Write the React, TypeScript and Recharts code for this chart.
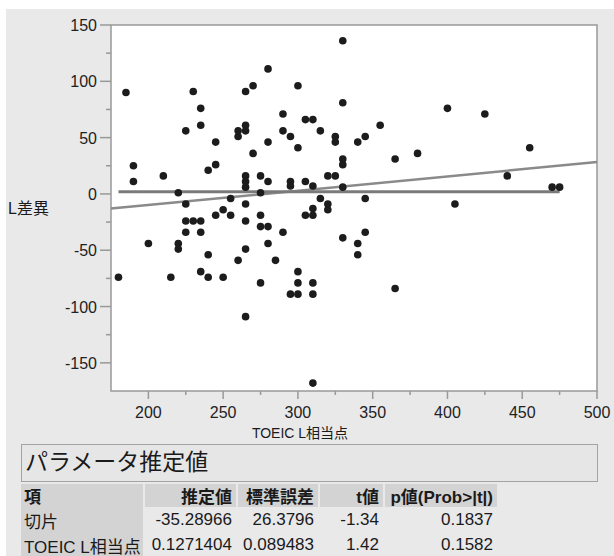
import React from 'react';
import { ScatterChart, Scatter, XAxis, YAxis, ReferenceArea, ReferenceLine } from 'recharts';

// TOEIC L相当点 (x) と L差異 (y)
const toeicL = [
  185, 190, 190, 210, 220, 225, 225, 225, 225, 230, 230, 235, 235, 235, 235, 235,
  240, 240, 240, 245, 245, 245, 250, 250, 255, 255, 260, 260, 260,
  265, 265, 265, 265, 265, 265, 265, 265, 265, 265, 270, 270,
  275, 275, 275, 275, 275, 280, 280, 280, 280, 280, 285, 290, 290, 290,
  295, 295, 295, 295, 300, 300, 300, 300, 300, 305, 305, 305,
  310, 310, 310, 310, 310, 310, 310, 315, 315, 320, 320, 320, 325, 325, 325,
  330, 330, 330, 330, 330, 330, 340, 340, 340, 345, 345, 345, 355, 365, 365,
  380, 400, 405, 425, 440, 455, 470, 475, 180, 200, 215, 220, 220,
];
const lDiff = [
  90, 25, 11, 16, 1, 56, -9, -24, -34, 91, -24, 76, 61, -24, -34, -69,
  21, -54, -74, 46, 26, -19, -14, -74, -4, -19, 56, 51, -59,
  91, 61, 56, 16, 11, 6, -9, -24, -49, -109, 96, 36,
  16, 1, -19, -29, -79, 111, 46, 11, -29, -44, -59, 71, 56, -34,
  51, 11, 7, -89, 96, 41, -69, -79, -89, 66, 11, -19,
  66, 7, -13, -19, -79, -89, -168, 56, -4, 16, -9, -14, 51, 46, 16,
  136, 81, 31, 26, 6, -39, 46, -44, -54, 51, -4, -34, 61, 31, -84,
  36, 76, -9, 71, 16, 41, 6, 6, -74, -44, -74, -44, -49,
];

const xTicks = [200, 225, 250, 275, 300, 325, 350, 375, 400, 425, 450, 475, 500];
const yTicks = [-150, -125, -100, -75, -50, -25, 0, 25, 50, 75, 100, 125, 150];

// パラメータ推定値
const paramHeaders = ['項', '推定値', '標準誤差', 't値', 'p値(Prob>|t|)'];
const paramTerms = ['切片', 'TOEIC L相当点'];
const estimates = ['-35.28966', '0.1271404'];
const stdErrors = ['26.3796', '0.089483'];
const tValues = ['-1.34', '1.42'];
const pValues = ['0.1837', '0.1582'];
const intercept = -35.28966;
const slope = 0.1271404;
const meanDiff = 2;

const points = toeicL.map((x, i) => ({ x, y: lDiff[i] }));
const xMin = 175;
const xMax = 500;
const fitSegment = [
  { x: xMin, y: intercept + slope * xMin },
  { x: xMax, y: intercept + slope * xMax },
];
const meanSegment = [
  { x: Math.min(...toeicL), y: meanDiff },
  { x: Math.max(...toeicL), y: meanDiff },
];

const font = "'Liberation Sans', Arial, 'Noto Sans CJK JP', sans-serif";
const axisGray = '#999';

const YTick = (props: any) => {
  const { x, y, payload } = props;
  const major = payload.value % 50 === 0;
  return (
    <g>
      <line x1={x - (major ? 11 : 5)} x2={x} y1={y} y2={y} stroke={axisGray} strokeWidth={1.5} />
      {major && (
        <text x={x - 14} y={y + 6} textAnchor="end" fontSize={16} fill="#222" fontFamily={font}>
          {payload.value}
        </text>
      )}
    </g>
  );
};

const XTick = (props: any) => {
  const { x, y, payload } = props;
  const major = payload.value % 50 === 0;
  return (
    <g>
      <line x1={x} x2={x} y1={y} y2={y + (major ? 8 : 4)} stroke={axisGray} strokeWidth={1.5} />
      {major && (
        <text x={x} y={y + 27} textAnchor="middle" fontSize={16} fill="#222" fontFamily={font}>
          {payload.value}
        </text>
      )}
    </g>
  );
};

const Dot = (props: any) => <circle cx={props.cx} cy={props.cy} r={3.8} fill="#1c1c1c" />;

// 表の列: 左端, 幅
const cols = [
  [21, 122],
  [145, 91],
  [238, 80],
  [320, 63],
  [385, 112],
];

export default function App() {
  const cellText = (i: number, text: string, bold: boolean) => (
    <div
      key={i}
      style={{
        position: 'absolute',
        left: cols[i][0],
        width: cols[i][1],
        top: 0,
        height: '100%',
        display: 'flex',
        alignItems: 'center',
        justifyContent: i === 0 ? 'flex-start' : 'flex-end',
        padding: '0 4px 0 3px',
        boxSizing: 'border-box',
        fontWeight: bold ? 700 : 400,
        whiteSpace: 'nowrap',
      }}
    >
      {text}
    </div>
  );

  const rows = paramTerms.map((t, r) => [t, estimates[r], stdErrors[r], tValues[r], pValues[r]]);

  return (
    <div style={{ position: 'absolute', left: 0, top: 0, width: 614, height: 556, overflow: 'hidden', background: '#fff', fontFamily: font, color: '#1a1a1a' }}>
      <div style={{ position: 'absolute', left: 6, top: 9, width: 608, height: 547, background: '#e9e9ea' }} />

      <div style={{ position: 'absolute', left: 0, top: 0 }}>
        <ScatterChart width={614} height={440} margin={{ top: 25, right: 17, bottom: 0, left: 0 }}>
          <XAxis
            type="number"
            dataKey="x"
            domain={[xMin, xMax]}
            ticks={xTicks}
            allowDataOverflow
            axisLine={false}
            tickLine={false}
            tickSize={0}
            tickMargin={0}
            height={49}
            interval={0}
            tick={<XTick />}
          />
          <YAxis
            type="number"
            dataKey="y"
            domain={[-175, 150]}
            ticks={yTicks}
            allowDataOverflow
            axisLine={false}
            tickLine={false}
            tickSize={0}
            tickMargin={0}
            width={111}
            interval={0}
            tick={<YTick />}
          />
          <ReferenceArea x1={xMin} x2={xMax} y1={-175} y2={150} fill="#fff" fillOpacity={1} stroke={axisGray} strokeWidth={1.5} />
          <ReferenceLine segment={fitSegment} stroke="#8a8a8a" strokeWidth={2.5} />
          <ReferenceLine segment={meanSegment} stroke="#7a7a7a" strokeWidth={3} />
          <Scatter data={points} shape={<Dot />} isAnimationActive={false} />
        </ScatterChart>
      </div>

      <div style={{ position: 'absolute', left: 8, top: 199, fontSize: 16, lineHeight: '20px' }}>L差異</div>
      <div style={{ position: 'absolute', left: 200, width: 200, top: 424, textAlign: 'center', fontSize: 14, lineHeight: '18px' }}>
        TOEIC L相当点
      </div>

      <div
        style={{
          position: 'absolute', left: 21, top: 444, width: 577, height: 38, boxSizing: 'border-box',
          border: '1.5px solid #a3a3a3', background: '#e6e6e6', fontSize: 23, lineHeight: '35px', paddingLeft: 3,
        }}
      >
        パラメータ推定値
      </div>

      <div style={{ position: 'absolute', left: 0, top: 484, width: 614, height: 23, fontSize: 17 }}>
        {cols.map((c, i) => (
          <div key={'bg' + i} style={{ position: 'absolute', left: c[0], width: c[1], top: 0, height: 23, background: '#d3d3d3' }} />
        ))}
        {paramHeaders.map((h, i) => cellText(i, h, true))}
      </div>

      <div style={{ position: 'absolute', left: 21, width: 122, top: 507, height: 49, background: '#d3d3d3' }} />
      {rows.map((row, r) => (
        <div key={r} style={{ position: 'absolute', left: 0, top: 508 + r * 25, width: 614, height: 24, fontSize: 17 }}>
          {row.map((v, i) => cellText(i, v, false))}
        </div>
      ))}
    </div>
  );
}
